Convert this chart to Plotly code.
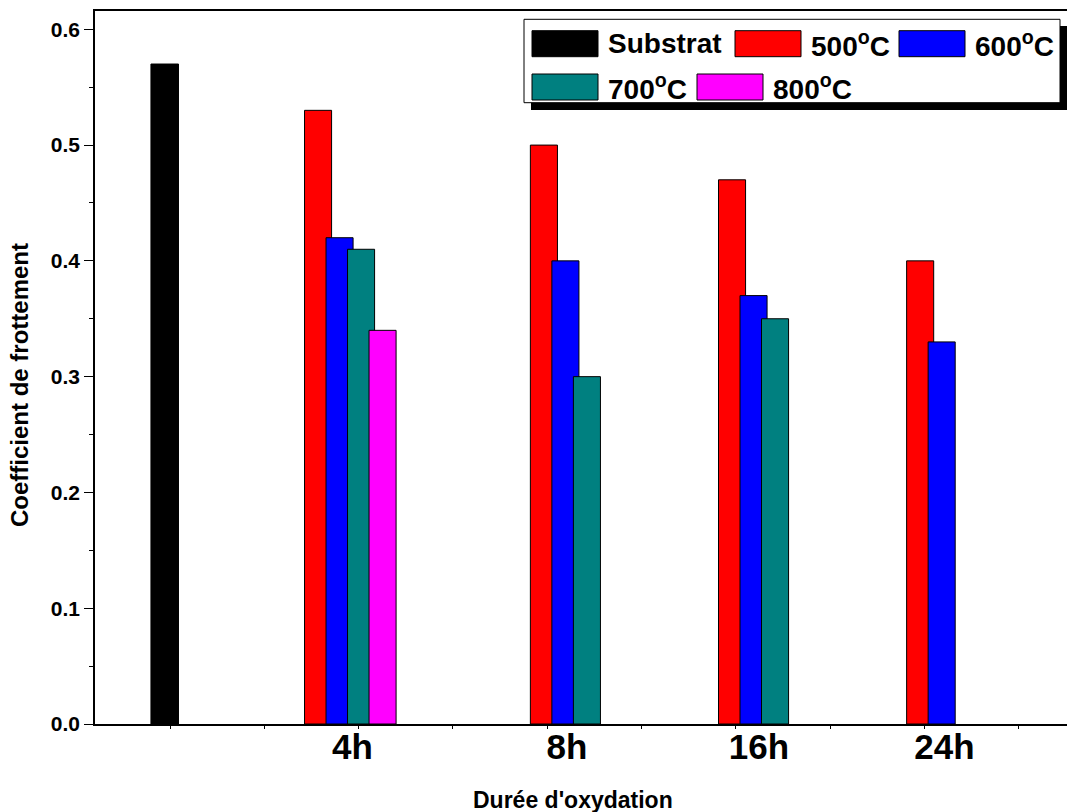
import plotly.graph_objects as go

# ---------------- data ----------------
groups = ["4h", "8h", "16h", "24h"]
series_names = ["500<sup>o</sup>C", "600<sup>o</sup>C", "700<sup>o</sup>C", "800<sup>o</sup>C"]
substrat_name = "Substrat"
substrat_value = [0.57]
v500 = [0.53, 0.50, 0.47, 0.40]
v600 = [0.42, 0.40, 0.37, 0.33]
v700 = [0.41, 0.30, 0.35, None]
v800 = [0.34, None, None, None]
y_tick_vals = [0.0, 0.1, 0.2, 0.3, 0.4, 0.5, 0.6]

# ---------------- layout constants ----------------
W, H = 1067, 812
ML, MT, MB, MR = 95, 11, 88, 0
PW, PH = W - ML - MR, H - MT - MB
FONT = "Liberation Sans, Arial, Helvetica, sans-serif"

substrat_pos = 0.944
group_pos = [2.57, 4.965, 6.96, 8.955]      # position of first bar of each group
label_pos = [2.935, 5.21, 7.245, 9.213]     # group label positions
step = 0.228
bar_w = 0.287
colors = ["#FF0000", "#0000FF", "#008080", "#FF00FF"]
substrat_color = "#000000"
x_range = [0.2047, 10.512]
y_range = [0, 0.6158]


def px(p):
    return (p - ML) / PW


def py(p):
    return (H - MB - p) / PH


fig = go.Figure()

fig.add_trace(go.Bar(
    x=[substrat_pos], y=substrat_value, width=bar_w + 0.005, name=substrat_name,
    marker=dict(color=substrat_color, line=dict(color="black", width=1)),
    opacity=1, showlegend=False,
))

all_vals = [v500, v600, v700, v800]
for k, (name, vals, col) in enumerate(zip(series_names, all_vals, colors)):
    fig.add_trace(go.Bar(
        x=[g + k * step for g in group_pos], y=vals, width=bar_w, name=name,
        marker=dict(color=col, line=dict(color="black", width=1)),
        opacity=1, showlegend=False,
    ))

# ---------------- manual legend (Origin style) ----------------
shapes = []
annotations = []
# shadow then box
shapes.append(dict(type="rect", xref="paper", yref="paper",
                   x0=px(531), x1=px(1067), y0=py(110), y1=py(26),
                   fillcolor="black", line=dict(width=0), layer="above"))
shapes.append(dict(type="rect", xref="paper", yref="paper",
                   x0=px(524), x1=px(1060), y0=py(102.7), y1=py(19.3),
                   fillcolor="white", line=dict(color="black", width=1), layer="above"))

legend_items = [(substrat_name, substrat_color)] + list(zip(series_names, colors))
slots = [(532, 30.7), (735, 30.7), (899, 30.7), (532, 74), (697, 74)]
for (name, col), (sx, sy) in zip(legend_items, slots):
    shapes.append(dict(type="rect", xref="paper", yref="paper",
                       x0=px(sx), x1=px(sx + 66), y0=py(sy + 26), y1=py(sy),
                       fillcolor=col, line=dict(color="black", width=1), layer="above"))
    annotations.append(dict(xref="paper", yref="paper", x=px(sx + 74), y=py(sy + 13),
                            xanchor="left", yanchor="middle", showarrow=False,
                            text=name, font=dict(family=FONT, size=28, color="black", weight="bold")))

# axis titles
annotations.append(dict(xref="paper", yref="paper", x=px(573), y=py(800),
                        xanchor="center", yanchor="middle", showarrow=False,
                        text="Durée d'oxydation",
                        font=dict(family=FONT, size=23, color="black", weight="bold")))
annotations.append(dict(xref="paper", yref="paper", x=px(20), y=py(385),
                        xanchor="center", yanchor="middle", showarrow=False, textangle=-90,
                        text="Coefficient de frottement",
                        font=dict(family=FONT, size=24, color="black", weight="bold")))

fig.update_layout(
    width=W, height=H,
    margin=dict(l=ML, r=MR, t=MT, b=MB, pad=0),
    paper_bgcolor="white", plot_bgcolor="white",
    barmode="overlay",
    showlegend=False,
    shapes=shapes,
    annotations=annotations,
    xaxis=dict(
        range=x_range, showgrid=False, zeroline=False,
        showline=True, linecolor="black", linewidth=1.5, mirror=True,
        tickmode="array", tickvals=label_pos, ticktext=groups,
        ticks="", ticklabelstandoff=-9,
        tickfont=dict(family=FONT, size=35, color="black", weight="bold"),
        minor=dict(tickmode="array", tickvals=list(range(1, 11)), ticks="outside",
                   ticklen=3, tickcolor="black", tickwidth=1, showgrid=False),
    ),
    yaxis=dict(
        range=y_range, showgrid=False, zeroline=False,
        showline=True, linecolor="black", linewidth=1.5, mirror=False,
        tickmode="array", tickvals=y_tick_vals, tickformat=".1f",
        ticks="outside", ticklen=9, tickwidth=1.3, tickcolor="black",
        tickfont=dict(family=FONT, size=21, color="black", weight="bold"),
        minor=dict(dtick=0.05, tick0=0, ticks="outside", ticklen=4, tickcolor="black",
                   tickwidth=1.3, showgrid=False),
    ),
)

fig.write_html(
    "out.html",
    config={"displayModeBar": False},
    post_script="document.body.style.margin='0';document.body.style.overflow='hidden';",
)
